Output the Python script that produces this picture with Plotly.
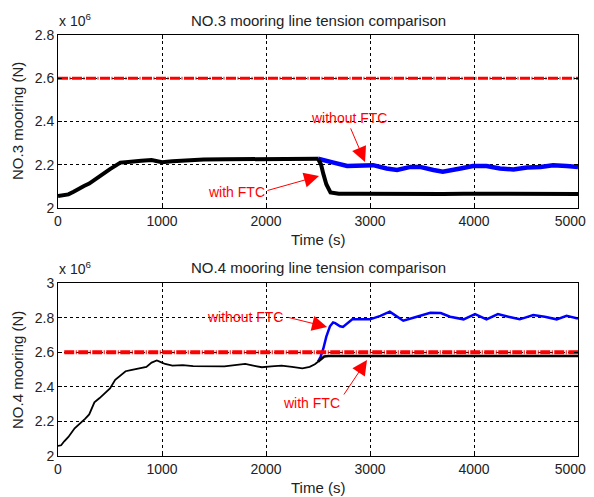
import plotly.graph_objects as go

# ---------------- data (values in units of 1e6 N) ----------------
# NO.3 mooring line: common part (before fault, both cases identical)
t3_pre = [0, 50, 100, 150, 200, 250, 300, 350, 400, 450, 500, 550, 600, 650, 700, 800, 900,
          1000, 1100, 1200, 1400, 1600, 1800, 2000, 2200, 2400, 2500]
v3_pre = [2.055, 2.057, 2.063, 2.075, 2.09, 2.102, 2.113, 2.13, 2.15, 2.165, 2.18, 2.195, 2.21,
          2.212, 2.215, 2.218, 2.222, 2.212, 2.216, 2.22, 2.224, 2.225, 2.226, 2.228, 2.228, 2.23, 2.228]
# NO.3 with FTC (after 2500 s)
t3_ftc = [2500, 2530, 2550, 2580, 2620, 2700, 2900, 3100, 3300, 3500, 3700, 3900, 4100, 4300,
          4500, 4700, 4900, 5000]
v3_ftc = [2.228, 2.2, 2.16, 2.11, 2.072, 2.066, 2.066, 2.065, 2.066, 2.067, 2.065, 2.066, 2.066,
          2.065, 2.066, 2.065, 2.066, 2.065]
# NO.3 without FTC (after 2500 s)
t3_noftc = [2500, 2520, 2650, 2780, 2900, 3030, 3160, 3260, 3390, 3480, 3610, 3700, 3870, 3990,
            4120, 4250, 4380, 4510, 4640, 4760, 4890, 5000]
v3_noftc = [2.228, 2.225, 2.21, 2.194, 2.194, 2.198, 2.183, 2.176, 2.19, 2.19, 2.176, 2.168, 2.183,
            2.194, 2.194, 2.183, 2.178, 2.187, 2.19, 2.198, 2.194, 2.19]
limit3 = 2.6

# NO.4 mooring line: common part
t4_pre = [0, 30, 60, 100, 160, 200, 260, 300, 350, 400, 450, 500, 550, 600, 650, 700, 750, 800,
          850, 900, 950, 1000, 1030, 1100, 1200, 1300, 1400, 1500, 1600, 1700, 1800, 1900, 1960,
          2050, 2150, 2250, 2350, 2420, 2470, 2500]
v4_pre = [2.058, 2.062, 2.085, 2.11, 2.16, 2.18, 2.215, 2.24, 2.31, 2.335, 2.36, 2.39, 2.44, 2.465,
          2.49, 2.497, 2.503, 2.505, 2.515, 2.54, 2.552, 2.54, 2.532, 2.522, 2.525, 2.52, 2.52,
          2.522, 2.518, 2.525, 2.532, 2.52, 2.513, 2.518, 2.522, 2.515, 2.507, 2.515, 2.53, 2.545]
# NO.4 with FTC
t4_ftc = [2500, 2530, 2560, 2600, 2800, 3000, 3200, 3400, 3600, 3800, 4000, 4200, 4400, 4600,
          4800, 5000]
v4_ftc = [2.545, 2.562, 2.575, 2.578, 2.578, 2.579, 2.578, 2.577, 2.578, 2.578, 2.577, 2.578,
          2.578, 2.578, 2.577, 2.578]
# NO.4 without FTC
t4_noftc = [2500, 2526, 2551, 2580, 2615, 2645, 2665, 2712, 2740, 2776, 2830, 2950, 3000, 3100,
            3190, 3250, 3320, 3450, 3580, 3680, 3770, 3900, 4010, 4120, 4230, 4330, 4440, 4570,
            4680, 4795, 4890, 5000]
v4_noftc = [2.545, 2.575, 2.62, 2.69, 2.75, 2.772, 2.768, 2.75, 2.746, 2.763, 2.79, 2.79, 2.79,
            2.81, 2.834, 2.81, 2.782, 2.805, 2.828, 2.826, 2.805, 2.79, 2.82, 2.79, 2.82, 2.805,
            2.79, 2.815, 2.805, 2.79, 2.81, 2.795]
limit4 = 2.6

x_ticks = [0, 1000, 2000, 3000, 4000, 5000]
x_tick_labels = ["0", "1000", "2000", "3000", "4000", "5000\u00a0\u00a0\u00a0\u00a0"]
y3_ticks = [2.0, 2.2, 2.4, 2.6, 2.8]
y4_ticks = [2.0, 2.2, 2.4, 2.6, 2.8, 3.0]

titles = ["NO.3 mooring line tension comparison", "NO.4 mooring line tension comparison"]
ylabels = ["NO.3 mooring (N)", "NO.4 mooring (N)"]
xlabel = "Time (s)"

# ---------------- layout helpers ----------------
OFF = 8                      # page body margin offset
W, H = 594 - OFF, 497 - OFF
# plot area in page pixels: x 58..578, top plot 35..208, bottom plot 283..456
ML = 58 - OFF
MR = W - (578 - OFF)
MT = 35 - OFF
MB = H - (456 - OFF)
PW = W - ML - MR
PH = H - MT - MB


def py2paper(py):
    return (456 - py) / PH


def px2paper(px):
    return (px - 58) / PW


FONT = "Liberation Sans, Arial, sans-serif"
RED = "#ff0000"
BLUE = "#0000ff"

fig = go.Figure()

dash = "10px,1.5px,1px,1.5px"
# top subplot
fig.add_trace(go.Scatter(x=[0, 5000], y=[limit3, limit3], mode="lines",
                         line=dict(color=RED, width=3, dash=dash), xaxis="x", yaxis="y"))
fig.add_trace(go.Scatter(x=t3_noftc, y=v3_noftc, mode="lines",
                         line=dict(color=BLUE, width=4.5), xaxis="x", yaxis="y"))
fig.add_trace(go.Scatter(x=t3_pre, y=v3_pre, mode="lines",
                         line=dict(color="black", width=4), xaxis="x", yaxis="y"))
fig.add_trace(go.Scatter(x=t3_ftc, y=v3_ftc, mode="lines",
                         line=dict(color="black", width=4), xaxis="x", yaxis="y"))
# bottom subplot
fig.add_trace(go.Scatter(x=t4_noftc, y=v4_noftc, mode="lines",
                         line=dict(color=BLUE, width=2.5), xaxis="x2", yaxis="y2"))
fig.add_trace(go.Scatter(x=t4_pre, y=v4_pre, mode="lines",
                         line=dict(color="black", width=1.8), xaxis="x2", yaxis="y2"))
fig.add_trace(go.Scatter(x=t4_ftc, y=v4_ftc, mode="lines",
                         line=dict(color="black", width=2.5), xaxis="x2", yaxis="y2"))
fig.add_trace(go.Scatter(x=[60, 5000], y=[limit4, limit4], mode="lines",
                         line=dict(color=RED, width=4, dash=dash), xaxis="x2", yaxis="y2"))

axis_common = dict(showline=True, linecolor="black", linewidth=1, mirror="ticks",
                   ticks="inside", ticklen=4, tickcolor="black",
                   showgrid=True, gridcolor="black", gridwidth=1, griddash="dot",
                   zeroline=False, automargin=False, ticklabeloverflow="allow",
                   tickfont=dict(family=FONT, size=14, color="#222"))

top_dom = [py2paper(208), 1.0]
bot_dom = [0.0, py2paper(283)]

fig.update_layout(
    width=W, height=H, margin=dict(l=ML, r=MR, t=MT, b=MB, autoexpand=False),
    paper_bgcolor="white", plot_bgcolor="white", showlegend=False,
    font=dict(family=FONT, color="#222"),
    xaxis=dict(domain=[0, 1], range=[0, 5000], tickvals=x_ticks, ticktext=x_tick_labels,
               anchor="y", **axis_common),
    yaxis=dict(domain=top_dom, range=[2.0, 2.8], tickvals=y3_ticks, anchor="x", **axis_common),
    xaxis2=dict(domain=[0, 1], range=[0, 5000], tickvals=x_ticks, ticktext=x_tick_labels,
                anchor="y2", **axis_common),
    yaxis2=dict(domain=bot_dom, range=[2.0, 3.0], tickvals=y4_ticks, anchor="x2", **axis_common),
)

ann = []
# titles
for ty, txt in [(20, titles[0]), (267, titles[1])]:
    ann.append(dict(text=txt, xref="paper", yref="paper", x=px2paper(318), y=py2paper(ty),
                    xanchor="center", yanchor="middle", showarrow=False,
                    font=dict(family=FONT, size=15, color="#222")))
# x labels
for ty in [240, 487]:
    ann.append(dict(text=xlabel, xref="paper", yref="paper", x=px2paper(318), y=py2paper(ty),
                    xanchor="center", yanchor="middle", showarrow=False,
                    font=dict(family=FONT, size=15, color="#222")))
# y labels
for ty, txt in [(121, ylabels[0]), (370, ylabels[1])]:
    ann.append(dict(text=txt, xref="paper", yref="paper", x=px2paper(17), y=py2paper(ty),
                    xanchor="center", yanchor="middle", showarrow=False, textangle=-90,
                    font=dict(family=FONT, size=15, color="#222")))
# exponent labels
for ty in [20, 268]:
    ann.append(dict(text="x 10<sup>6</sup>", xref="paper", yref="paper", x=px2paper(57),
                    y=py2paper(ty), xanchor="left", yanchor="middle", showarrow=False,
                    font=dict(family=FONT, size=14, color="#222")))

# red annotations (text + arrow) in data coordinates
notes = [
    ("x", "y", "without FTC", 2798, 2.416, (2808, 2.375), (2952, 2.213)),
    ("x", "y", "with FTC", 1712, 2.074, (2000, 2.079), (2510, 2.148)),
    ("x2", "y2", "without FTC", 1798, 2.803, (2202, 2.803), (2587, 2.746)),
    ("x2", "y2", "with FTC", 2442, 2.306, (2740, 2.347), (2971, 2.555)),
]
for xr, yr, txt, tx, tyv, tail, tip in notes:
    ann.append(dict(text=txt, xref=xr, yref=yr, x=tx, y=tyv, showarrow=False,
                    xanchor="center", yanchor="middle",
                    font=dict(family=FONT, size=14, color=RED)))
    ann.append(dict(text="", xref=xr, yref=yr, x=tip[0], y=tip[1], axref=xr, ayref=yr,
                    ax=tail[0], ay=tail[1], showarrow=True, arrowhead=2, arrowsize=3,
                    arrowwidth=1, arrowcolor=RED, standoff=0))

fig.update_layout(annotations=ann)
fig.write_html("out.html")
